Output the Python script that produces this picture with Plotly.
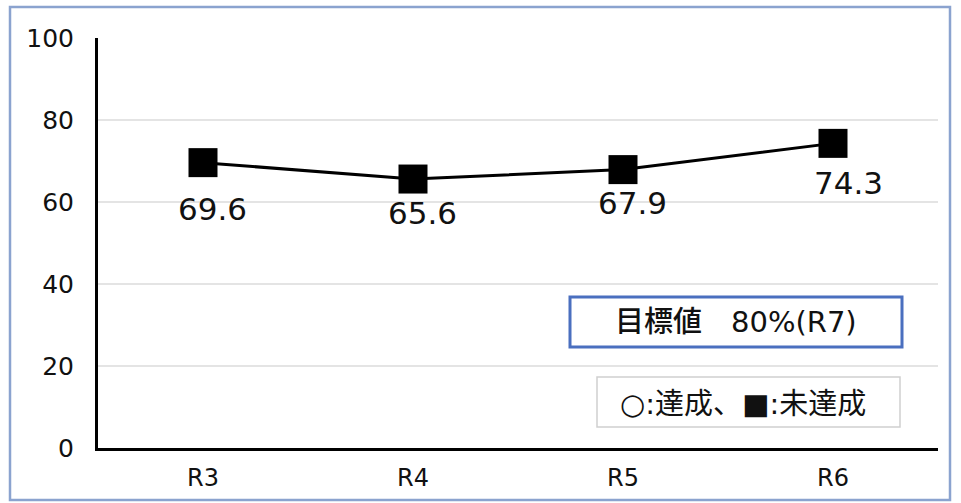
import plotly.graph_objects as go

# Yearly rate (%) against the R7 target
years = ["R3", "R4", "R5", "R6"]
rates = [69.6, 65.6, 67.9, 74.3]
y_ticks = [0, 20, 40, 60, 80, 100]
target_text = "目標値　80%(R7)"
legend_text = "○:達成、■:未達成"

# pixel offsets of each value label from its marker
label_dx = [9, 9, 9, 15]
label_dy = [-46, -34, -33, -40]

FONT = "DejaVu Sans, Noto Sans CJK JP, sans-serif"
INK = "#111111"

fig = go.Figure()
fig.add_trace(go.Scatter(
    x=years, y=rates,
    mode="lines+markers",
    line=dict(color="black", width=3),
    marker=dict(symbol="square", size=29, color="black"),
    hoverinfo="skip",
    showlegend=False,
))

# value labels under each marker
for yr, v, dx, dy in zip(years, rates, label_dx, label_dy):
    fig.add_annotation(
        x=yr, y=v, text=f"{v:.1f}", showarrow=False,
        xshift=dx, yshift=dy,
        font=dict(family=FONT, size=31, color=INK),
    )


def px_x(px):
    return (px - 98) / 840


def px_y(px):
    return (448 - px) / 410


# target box
fig.add_shape(type="rect", xref="paper", yref="paper",
              x0=px_x(570), x1=px_x(902), y0=px_y(347), y1=px_y(297),
              line=dict(color="#4a6fbf", width=3), fillcolor="white", layer="above")
fig.add_annotation(xref="paper", yref="paper", xanchor="center", yanchor="middle",
                   x=px_x(736), y=px_y(322),
                   text=target_text, showarrow=False,
                   font=dict(family=FONT, size=29, color=INK, weight=500))

# achievement key box
fig.add_shape(type="rect", xref="paper", yref="paper",
              x0=px_x(597), x1=px_x(900), y0=px_y(427), y1=px_y(377),
              line=dict(color="#d0d0d0", width=1.5), fillcolor="white", layer="above")
fig.add_annotation(xref="paper", yref="paper", xanchor="center", yanchor="middle",
                   x=px_x(743), y=px_y(404),
                   text=legend_text, showarrow=False,
                   font=dict(family=FONT, size=29, color=INK))

# outer frame
fig.add_shape(type="rect", xref="paper", yref="paper",
              x0=px_x(10), x1=px_x(950), y0=px_y(500), y1=px_y(7),
              line=dict(color="#8ba3cf", width=2.5), layer="above")

fig.update_layout(
    width=961, height=503,
    margin=dict(l=98, r=23, t=38, b=55),
    paper_bgcolor="white", plot_bgcolor="white",
    xaxis=dict(
        range=[-0.5, 3.5], showgrid=False, zeroline=False,
        showline=True, linecolor="black", linewidth=3,
        ticks="", tickfont=dict(family=FONT, size=24, color=INK),
        ticklabelstandoff=6,
    ),
    yaxis=dict(
        range=[0, 100], tickvals=y_ticks,
        showgrid=True, gridcolor="#e4e4e4", gridwidth=1.5,
        zeroline=False, showline=True, linecolor="black", linewidth=3,
        ticks="", tickfont=dict(family=FONT, size=25, color=INK),
        ticklabelstandoff=16,
    ),
)

fig.write_html("out.html")
